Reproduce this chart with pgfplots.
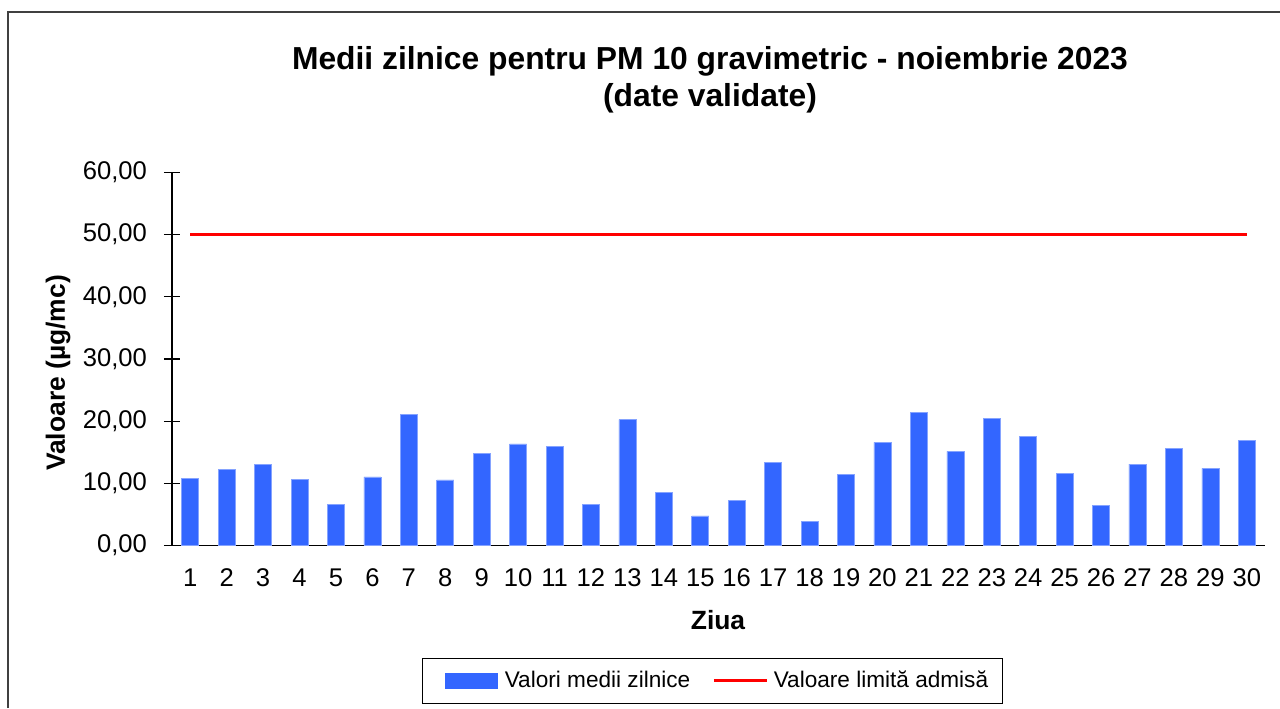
\documentclass[border=0pt]{standalone}
\usepackage{pgfplots}
\pgfplotsset{compat=1.18}
\usepackage{fontspec}
\setmainfont{Liberation Sans}
\definecolor{barblue}{HTML}{3366FF}
\definecolor{limred}{HTML}{FF0000}
\pgfplotstableread{
day val
1 10.80
2 12.26
3 13.10
4 10.65
5 6.67
6 11.02
7 21.04
8 10.54
9 14.88
10 16.33
11 15.90
12 6.57
13 20.24
14 8.55
15 4.75
16 7.32
17 13.38
18 3.94
19 11.45
20 16.60
21 21.42
22 15.15
23 20.46
24 17.61
25 11.61
26 6.51
27 13.11
28 15.63
29 12.41
30 16.92
}\pmdata
\pgfplotstableread{
day val
1 50
30 50
}\limdata
\begin{document}
\begin{tikzpicture}[x=0.5pt,y=0.5pt]
\useasboundingbox (0,0) rectangle (1280,708);
\draw[black!75, line width=0.7pt] (8,0) -- (8,696) -- (1280,696);
\node[anchor=base, font=\fontsize{15.9}{19}\selectfont\bfseries] at (710,638.7) {Medii zilnice pentru PM 10 gravimetric - noiembrie 2023};
\node[anchor=base, font=\fontsize{15.9}{19}\selectfont\bfseries] at (710,601) {(date validate)};
\node[rotate=90, font=\fontsize{13.2}{16}\selectfont\bfseries] at (58,335) {Valoare (µg/mc)};
\node[anchor=base, font=\fontsize{13.2}{16}\selectfont\bfseries] at (718,79) {Ziua};
\begin{axis}[
  at={(86pt,81.25pt)}, anchor=south west,
  scale only axis, width=546.5pt, height=186.5pt,
  xmin=0.5, xmax=30.5, ymin=0, ymax=60,
  axis lines*=left,
  axis line style={black, line width=0.7pt},
  xtick={1,...,30},
  xtick style={draw=none},
  ytick={0,10,...,60},
  ytick style={black, line width=0.6pt},
  tick align=center, major tick length=8pt,
  tick label style={font=\fontsize{12.8}{15}\selectfont},
  yticklabel style={xshift=-5pt, /pgf/number format/.cd, fixed, fixed zerofill, precision=2, use comma, assume math mode=true},
  xticklabel style={yshift=-4pt, /pgf/number format/assume math mode=true},
  legend style={at={(0.4945,0)}, anchor=north, yshift=-56.25pt, draw=black, line width=0.6pt,
    font=\fontsize{11.3}{14}\selectfont, legend columns=2, inner xsep=5pt, inner ysep=4.25pt,
    /tikz/every even column/.append style={column sep=9pt}},
  legend cell align=left,
]
\addplot[ybar, bar width=8.5pt, fill=barblue, draw=barblue!60, line width=0.3pt,
  legend image code/.code={\path[draw=none, fill=none] (0pt,0pt) rectangle (34pt,0.1pt); \fill[barblue, draw=none] (6pt,-4pt) rectangle (32.5pt,4pt);}]
  table[x=day, y=val] {\pmdata};
\addlegendentry{Valori medii zilnice}
\addplot[limred, line width=1.5pt, no marks,
  legend image code/.code={\path[draw=none] (0pt,0pt) -- (28pt,0pt); \draw[limred, line width=1.5pt] (0pt,0pt) -- (26.5pt,0pt);}]
  table[x=day, y=val] {\limdata};
\addlegendentry{Valoare limită admisă}
\end{axis}
\end{tikzpicture}
\end{document}
